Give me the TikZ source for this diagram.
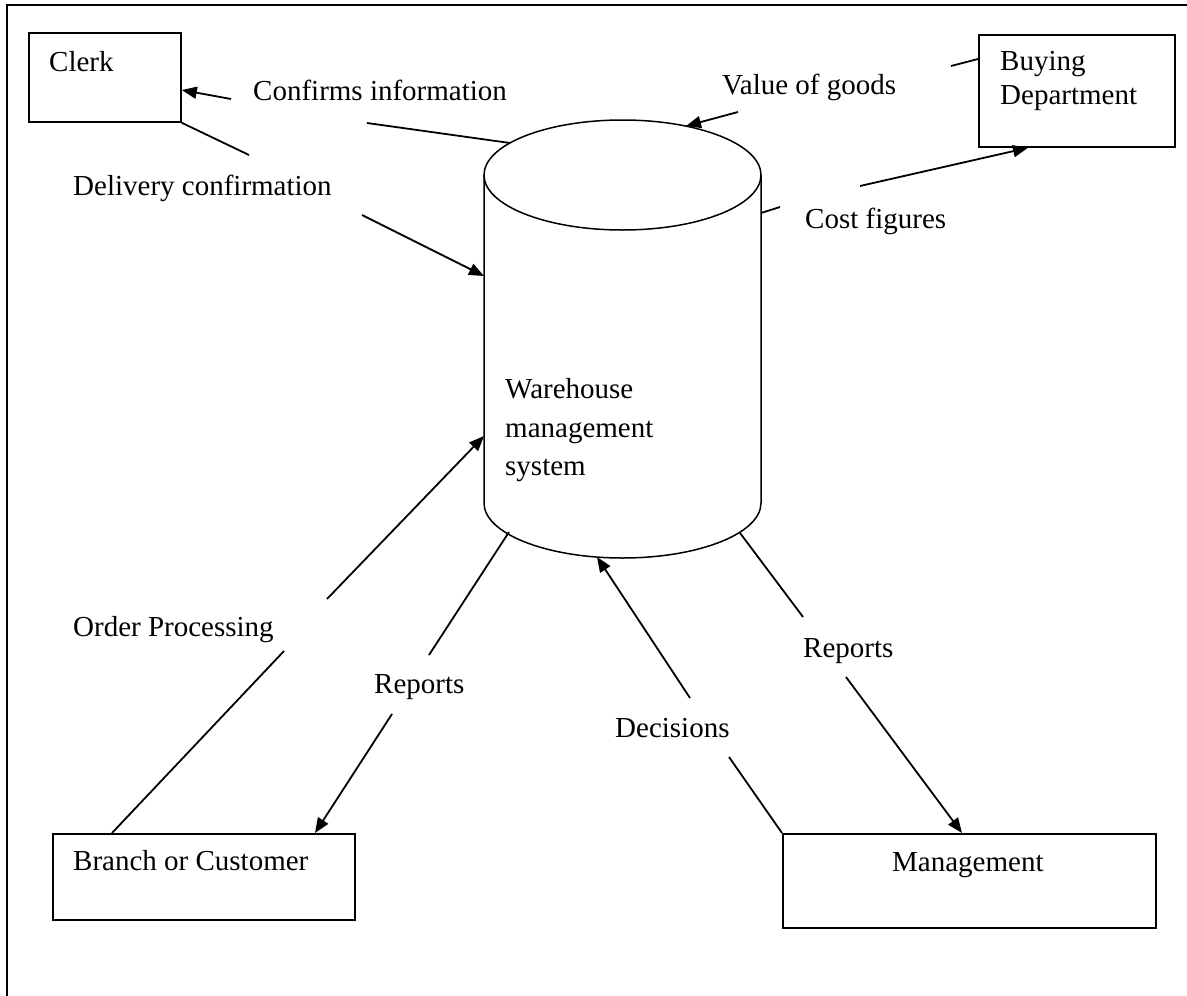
\documentclass[tikz,border=0pt]{standalone}
\usepackage{fontspec}
\setmainfont{Liberation Serif}
\usetikzlibrary{arrows.meta}
\begin{document}
\begin{tikzpicture}[x=1pt,y=-1pt,
  lbl/.style={anchor=base west, inner sep=0pt, font=\fontsize{29}{36}\selectfont},
  boxnode/.style={draw, line width=1.8pt, anchor=north west, inner sep=0pt},
  flow/.style={line width=1.8pt},
  tip/.style={-{Triangle[length=15pt,width=12pt]}}
]
\useasboundingbox (0,0) rectangle (1187,996);
% page frame: top and left edges
\draw[line width=2.2pt] (1187,5) -- (7,5) -- (7,996);

% external entities
\node[boxnode, minimum width=152pt, minimum height=89pt]  (clerk)  at (28,32)  {};
\node[boxnode, minimum width=196pt, minimum height=112pt] (buying) at (978,34) {};
\node[boxnode, minimum width=302pt, minimum height=86pt]  (branch) at (52,833) {};
\node[boxnode, minimum width=373pt, minimum height=94pt]  (mgmt)   at (782,833) {};

\node[lbl] (clerkT)  at (49,71)   {Clerk};
\node[lbl] (buyT1)   at (1000,70) {Buying};
\node[lbl] (buyT2)   at (1000,104) {Department};
\node[lbl] (branchT) at (73,870)  {Branch or Customer};
\node[lbl] (mgmtT)   at (892,871) {Management};

% data store: warehouse management system
\draw[line width=1.5pt] (622.5,175) ellipse [x radius=138.5, y radius=55];
\draw[line width=1.5pt] (484,175) -- (484,503)
  arc[start angle=180, end angle=0, x radius=138.5, y radius=55] -- (761,175);
\node[lbl] (wms1) at (505,398) {Warehouse};
\node[lbl] (wms2) at (505,437) {management};
\node[lbl] (wms3) at (505,475) {system};

% anchor points on the data store outline
\coordinate (dsTopL)  at (510,143);
\coordinate (dsTopR)  at (686,126);
\coordinate (dsLeftA) at (484,276);
\coordinate (dsLeftB) at (484,436);
\coordinate (dsRight) at (761,213);
\coordinate (dsBotL)  at (509,532);
\coordinate (dsBotM)  at (597,557);
\coordinate (dsBotR)  at (740,533);

% flow labels
\node[lbl] (lConf)  at (253,100) {Confirms information};
\node[lbl] (lDeliv) at (73,195)  {Delivery confirmation};
\node[lbl] (lValue) at (722,94)  {Value of goods};
\node[lbl] (lCost)  at (805,228) {Cost figures};
\node[lbl] (lOrder) at (73,636)  {Order Processing};
\node[lbl] (lRepL)  at (374,693) {Reports};
\node[lbl] (lDec)   at (615,737) {Decisions};
\node[lbl] (lRepR)  at (803,657) {Reports};

% free ends of the flows, on either side of their labels
\coordinate (confA)  at (231,99);
\coordinate (confB)  at (367,123);
\coordinate (delA)   at (249,155);
\coordinate (delB)   at (362,215);
\coordinate (valA)   at (738,112);
\coordinate (valB)   at (951,66);
\coordinate (costA)  at (780,207);
\coordinate (costB)  at (860,186);
\coordinate (ordA)   at (284,651);
\coordinate (ordB)   at (327,599);
\coordinate (repLA)  at (429,655);
\coordinate (repLB)  at (392,714);
\coordinate (decA)   at (729,757);
\coordinate (decB)   at (690,698);
\coordinate (repRA)  at (803,617);
\coordinate (repRB)  at (846,677);

% Confirms information: store -> clerk
\draw[flow] (dsTopL) -- (confB);
\draw[flow,tip] (confA) -- (clerk.east |- 0,90);
% Delivery confirmation: clerk -> store
\draw[flow] (clerk.south east) -- (delA);
\draw[flow,tip] (delB) -- (dsLeftA);
% Value of goods: buying -> store
\draw[flow] (buying.west |- 0,59) -- (valB);
\draw[flow,tip] (valA) -- (dsTopR);
% Cost figures: store -> buying
\draw[flow] (dsRight) -- (costA);
\draw[flow,tip] (costB) -- (buying.south -| 1028,0);
% Order Processing: branch -> store
\draw[flow] (branch.north -| 112,0) -- (ordA);
\draw[flow,tip] (ordB) -- (dsLeftB);
% Reports: store -> branch
\draw[flow] (dsBotL) -- (repLA);
\draw[flow,tip] (repLB) -- (branch.north -| 315,0);
% Decisions: management -> store
\draw[flow] (mgmt.north west) -- (decA);
\draw[flow,tip] (decB) -- (dsBotM);
% Reports: store -> management
\draw[flow] (dsBotR) -- (repRA);
\draw[flow,tip] (repRB) -- (mgmt.north -| 962,0);
\end{tikzpicture}
\end{document}
